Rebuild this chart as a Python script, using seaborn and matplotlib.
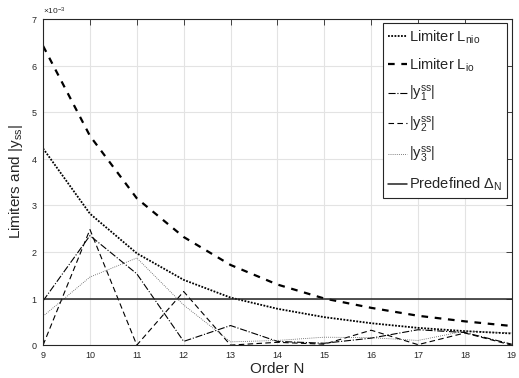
import numpy as np
import pandas as pd
import seaborn as sns
import matplotlib.pyplot as plt
from matplotlib.ticker import ScalarFormatter

# order N
order_n = [9, 10, 11, 12, 13, 14, 15, 16, 17, 18, 19]

# values in units of 1e-3
limiter_nio = [4.22, 2.82, 1.97, 1.40, 1.02, 0.78, 0.60, 0.47, 0.37, 0.30, 0.25]
limiter_io = [6.42, 4.49, 3.15, 2.32, 1.72, 1.30, 1.00, 0.80, 0.63, 0.51, 0.41]
y1_ss = [0.95, 2.35, 1.53, 0.08, 0.42, 0.08, 0.04, 0.15, 0.33, 0.27, 0.02]
y2_ss = [0.00, 2.48, 0.00, 1.15, 0.00, 0.06, 0.02, 0.32, 0.01, 0.26, 0.00]
y3_ss = [0.62, 1.46, 1.87, 0.86, 0.07, 0.10, 0.17, 0.16, 0.10, 0.30, 0.26]
delta_n = [1.0] * len(order_n)

scale = 1e-3

sns.set_style("whitegrid")
plt.rcParams['font.family'] = ['Liberation Sans', 'DejaVu Sans']
plt.rcParams['mathtext.fontset'] = 'custom'
plt.rcParams['mathtext.rm'] = 'Liberation Sans'
plt.rcParams['mathtext.it'] = 'Liberation Sans'

fig = plt.figure(figsize=(5.19, 3.78), dpi=100)
ax = fig.add_axes([0.083, 0.087, 0.903, 0.863])

n = np.array(order_n)
sns.lineplot(x=n, y=np.array(limiter_nio) * scale, ax=ax, color='black',
             linestyle=(0, (1, 0.8)), linewidth=1.3, label=r'Limiter L$_{nio}$')
sns.lineplot(x=n, y=np.array(limiter_io) * scale, ax=ax, color='black',
             linestyle=(0, (3, 3)), linewidth=1.6, label=r'Limiter L$_{io}$')
sns.lineplot(x=n, y=np.array(y1_ss) * scale, ax=ax, color='black',
             linestyle='-.', linewidth=0.8, label=r'|y$_1^{ss}$|')
sns.lineplot(x=n, y=np.array(y2_ss) * scale, ax=ax, color='black',
             linestyle=(0, (5, 3)), linewidth=0.8, label=r'|y$_2^{ss}$|')
sns.lineplot(x=n, y=np.array(y3_ss) * scale, ax=ax, color='#555555',
             linestyle=(0, (1, 1.5)), linewidth=0.6, label=r'|y$_3^{ss}$|')
sns.lineplot(x=n, y=np.array(delta_n) * scale, ax=ax, color='#222222',
             linestyle='-', linewidth=1.1, label=r'Predefined $\Delta_N$')

ax.set_xlim(9, 19)
ax.set_ylim(0, 7e-3)
ax.set_xticks(order_n)
ax.set_yticks(np.arange(0, 8) * scale)

fmt = ScalarFormatter(useMathText=True)
fmt.set_powerlimits((0, 0))
ax.yaxis.set_major_formatter(fmt)
ax.yaxis.get_offset_text().set_fontsize(6)
ax.yaxis.get_offset_text().set_color('#333333')

ax.grid(True, color='#e3e3e3', linewidth=0.8)
for s in ax.spines.values():
    s.set_color('#262626')
    s.set_linewidth(0.8)
ax.tick_params(direction='in', length=4, width=0.6, labelsize=6.5,
               colors='#262626', top=True, right=True, pad=4)

ax.set_xlabel('Order N', fontsize=11, labelpad=2)
ax.set_ylabel(r'Limiters and |y$_{ss}$|', fontsize=11, labelpad=4)

leg = ax.legend(loc='upper right', fontsize=10.5, frameon=True, fancybox=False,
                edgecolor='#262626', framealpha=1, handlelength=1.3,
                handletextpad=0.15, borderpad=0.35, labelspacing=0.72,
                borderaxespad=0.3)
leg.get_frame().set_linewidth(0.8)

fig.savefig('out.png', dpi=100)
